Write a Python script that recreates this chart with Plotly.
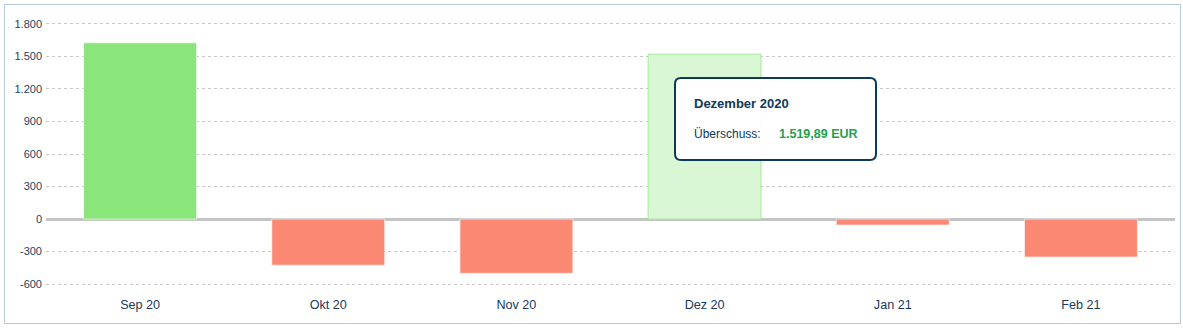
import plotly.graph_objects as go

# Monthly surplus (Überschuss) in EUR
months = ["Sep 20", "Okt 20", "Nov 20", "Dez 20", "Jan 21", "Feb 21"]
month_names = ["September 2020", "Oktober 2020", "November 2020",
               "Dezember 2020", "Januar 2021", "Februar 2021"]
surplus = [1625.0, -425.0, -500.0, 1519.89, -55.0, -350.0]
y_ticks = [-600, -300, 0, 300, 600, 900, 1200, 1500, 1800]
y_tick_labels = ["-600", "-300", "0", "300", "600", "900", "1.200", "1.500", "1.800"]

highlight = 3  # month shown in the info box

POS = "#8ae67a"
NEG = "#fa8872"
POS_LIGHT = "#d9f7d4"
NAVY = "#0d3a5c"

colors = []
lines = []
for i, v in enumerate(surplus):
    if i == highlight:
        colors.append(POS_LIGHT if v >= 0 else "#fde0da")
        lines.append("#a6e89a" if v >= 0 else "#f7b3a6")
    else:
        colors.append(POS if v >= 0 else NEG)
        lines.append("rgba(255,255,255,0.6)")

fig = go.Figure(go.Bar(
    x=months, y=surplus,
    marker=dict(color=colors, line=dict(color=lines, width=1)),
    width=0.6, hoverinfo="skip",
))

W, H = 1183, 328
ML, MR, MT, MB = 46, 8, 13, 33
pw, ph = W - ML - MR, H - MT - MB


def px_x(px):
    return (px - ML) / pw


def px_y(py):
    return (H - MB - py) / ph


def fmt_de(v):
    s = f"{v:,.2f}"
    return s.replace(",", "X").replace(".", ",").replace("X", ".")


shapes = []
# outer frame
shapes.append(dict(type="rect", xref="paper", yref="paper",
                   x0=px_x(4.5), x1=px_x(1180.5), y0=px_y(323.5), y1=px_y(4.5),
                   line=dict(color="#b7c9db", width=1), layer="below"))

# rounded info box
bx0, bx1, by0, by1 = 675, 876, 78, 160
r = 6
x0, x1 = px_x(bx0), px_x(bx1)
yt, yb = px_y(by0), px_y(by1)
rx, ry = r / pw, r / ph
path = (f"M {x0+rx},{yt} L {x1-rx},{yt} Q {x1},{yt} {x1},{yt-ry} "
        f"L {x1},{yb+ry} Q {x1},{yb} {x1-rx},{yb} "
        f"L {x0+rx},{yb} Q {x0},{yb} {x0},{yb+ry} "
        f"L {x0},{yt-ry} Q {x0},{yt} {x0+rx},{yt} Z")
shapes.append(dict(type="path", xref="paper", yref="paper", path=path,
                   fillcolor="rgba(255,255,255,0.96)",
                   line=dict(color=NAVY, width=2), layer="above"))

annotations = [
    dict(xref="paper", yref="paper", x=px_x(692), y=px_y(104),
         xanchor="left", yanchor="middle", showarrow=False,
         text=f"<b>{month_names[highlight]}</b>",
         font=dict(family="Liberation Sans, Arial", size=13, color=NAVY)),
    dict(xref="paper", yref="paper", x=px_x(692), y=px_y(134),
         xanchor="left", yanchor="middle", showarrow=False,
         text="Überschuss:",
         font=dict(family="Liberation Sans, Arial", size=12, color=NAVY)),
    dict(xref="paper", yref="paper", x=px_x(777), y=px_y(134),
         xanchor="left", yanchor="middle", showarrow=False,
         text=f"<b>{fmt_de(surplus[highlight])} EUR</b>",
         font=dict(family="Liberation Sans, Arial", size=12.5, color="#23a04a")),
]

fig.update_layout(
    width=W, height=H,
    margin=dict(l=ML, r=MR, t=MT, b=MB, pad=0),
    paper_bgcolor="white", plot_bgcolor="white",
    showlegend=False, bargap=0.4,
    shapes=shapes, annotations=annotations,
    font=dict(family="Liberation Sans, Arial", color=NAVY),
    xaxis=dict(showgrid=False, showline=False, ticks="",
               tickfont=dict(size=12.6, color="#17395e")),
    yaxis=dict(range=[-700, 1900], tickvals=y_ticks, ticktext=y_tick_labels,
               showgrid=True, gridcolor="#c8c8c8", griddash="dot", gridwidth=1,
               zeroline=True, zerolinecolor="#c4c4c4", zerolinewidth=2.5,
               ticks="", ticklabelstandoff=3,
               tickfont=dict(size=11, color="#203f62")),
)

fig.write_html("out.html")
